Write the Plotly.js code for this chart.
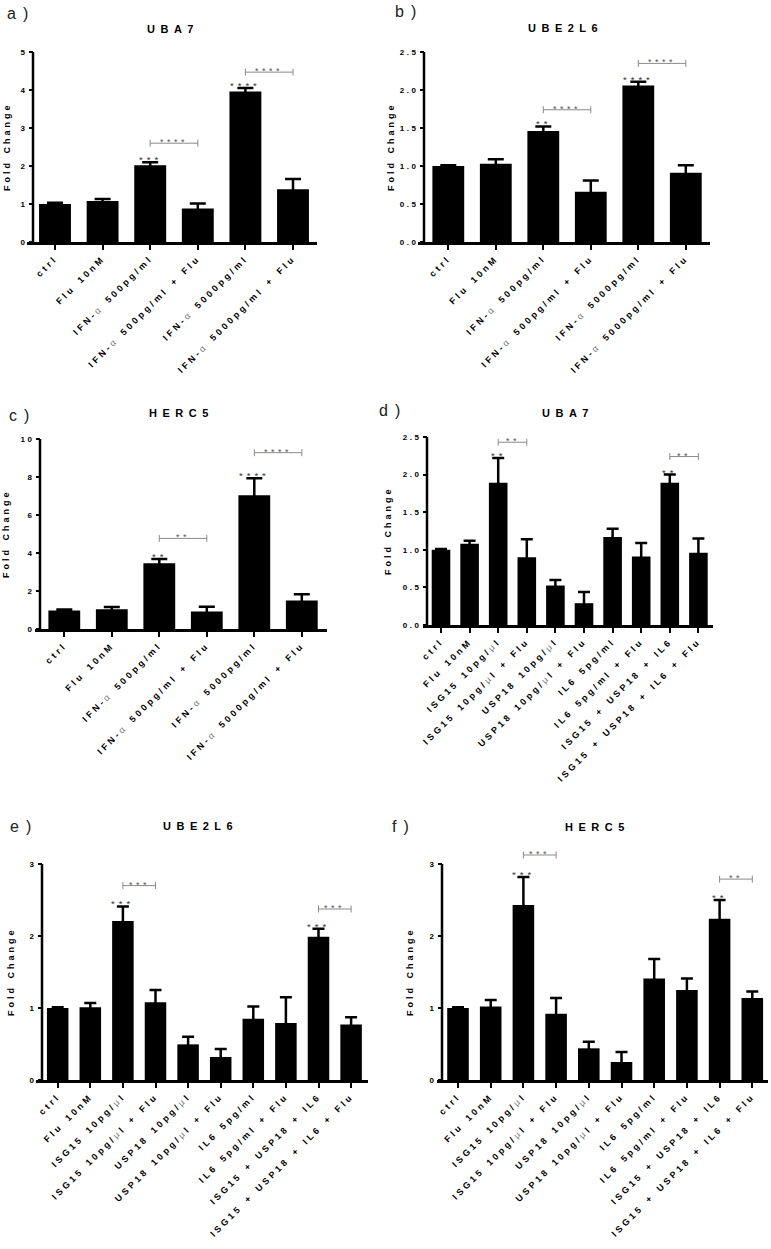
<!DOCTYPE html>
<html><head><meta charset="utf-8">
<script src="https://cdn.plot.ly/plotly-3.0.1.min.js"></script>
<style>body{margin:0;background:#fff}</style>
</head><body><div id="chart" style="width:771px;height:1249px"></div>
<script>
// ---------- DATA ----------
const catsIFN = ['ctrl','Flu 10nM','IFN-α 500pg/ml','IFN-α 500pg/ml + Flu','IFN-α 5000pg/ml','IFN-α 5000pg/ml + Flu'];
const catsISG = ['ctrl','Flu 10nM','ISG15 10pg/μl','ISG15 10pg/μl + Flu','USP18 10pg/μl','USP18 10pg/μl + Flu','IL6 5pg/ml','IL6 5pg/ml + Flu','ISG15 + USP18 + IL6','ISG15 + USP18 + IL6 + Flu'];

const titles = ['UBA7','UBE2L6','HERC5','UBA7','UBE2L6','HERC5'];
const panelLabels = ['a)','b)','c)','d)','e)','f)'];
const yTitle = 'Fold Change';

const valsA = [1.00, 1.08, 2.02, 0.88, 3.96, 1.39];
const errA  = [0.03, 0.05, 0.08, 0.13, 0.09, 0.27];
const starsA = ['', '', '***', '', '****', ''];
const sigA = [[2,3,2.60,'****'],[4,5,4.47,'****']];
const yTicksA = [0,1,2,3,4,5];

const valsB = [1.00, 1.03, 1.46, 0.66, 2.06, 0.91];
const errB  = [0.01, 0.06, 0.06, 0.15, 0.05, 0.10];
const starsB = ['', '', '**', '', '****', ''];
const sigB = [[2,3,1.74,'****'],[4,5,2.35,'****']];
const yTicksB = [0,0.5,1,1.5,2,2.5];

const valsC = [0.98, 1.04, 3.46, 0.92, 7.04, 1.50];
const errC  = [0.05, 0.12, 0.22, 0.25, 0.89, 0.33];
const starsC = ['', '', '**', '', '****', ''];
const sigC = [[2,3,4.77,'**'],[4,5,9.28,'****']];
const yTicksC = [0,2,4,6,8,10];

const valsD = [1.00, 1.08, 1.89, 0.90, 0.525, 0.29, 1.17, 0.91, 1.89, 0.96];
const errD  = [0.01, 0.04, 0.33, 0.24, 0.075, 0.15, 0.11, 0.18, 0.11, 0.19];
const starsD = ['', '', '**', '', '', '', '', '', '**', ''];
const sigD = [[2,3,2.43,'**'],[8,9,2.24,'**']];
const yTicksD = [0,0.5,1,1.5,2,2.5];

const valsE = [1.00, 1.01, 2.21, 1.08, 0.495, 0.32, 0.85, 0.79, 1.99, 0.77];
const errE  = [0.01, 0.06, 0.20, 0.17, 0.105, 0.11, 0.17, 0.36, 0.11, 0.10];
const starsE = ['', '', '***', '', '', '', '', '', '***', ''];
const sigE = [[2,3,2.70,'***'],[8,9,2.375,'***']];
const yTicksE = [0,1,2,3];

const valsF = [1.00, 1.02, 2.43, 0.92, 0.44, 0.25, 1.41, 1.25, 2.24, 1.14];
const errF  = [0.01, 0.09, 0.39, 0.22, 0.09, 0.14, 0.27, 0.16, 0.26, 0.09];
const starsF = ['', '', '***', '', '', '', '', '', '**', ''];
const sigF = [[2,3,3.125,'***'],[8,9,2.79,'**']];
const yTicksF = [0,1,2,3];

// ---------- LAYOUT GEOMETRY (pixels) ----------
const W = 771, H = 1249;
// yt = pixel row of the top tick, rTop = top of the plotted value range
const geo = [
  {xl:27,  xr:317, t0:55,    sp:47.6, yt:52,  yb:242,  rTop:5,   ypos:33,  dec:0, bw:0.67, cap:8, tx:173, ty:29,  lx:5,   ly:13,  ytx:7,   yty:147},
  {xl:418, xr:710, t0:448.3, sp:47.5, yt:52,  yb:242,  rTop:2.5, ypos:424, dec:1, bw:0.67, cap:8, tx:565, ty:28,  lx:393, ly:11,  ytx:391, yty:147},
  {xl:35,  xr:327, t0:64.3,  sp:47.5, yt:439, yb:629,  rTop:10,  ypos:40,  dec:0, bw:0.67, cap:8, tx:181, ty:413, lx:7,   ly:415, ytx:6,   yty:534},
  {xl:423, xr:713, t0:441,   sp:28.6, yt:437, yb:625,  rTop:2.5, ypos:427, dec:1, bw:0.65, cap:6, tx:568, ty:413, lx:377, ly:411, ytx:388, yty:531},
  {xl:36,  xr:368, t0:57.7,  sp:32.6, yt:864, yb:1080, rTop:3,   ypos:42,  dec:0, bw:0.66, cap:6, tx:200, ty:826, lx:8,   ly:826, ytx:11,  yty:972},
  {xl:437, xr:768, t0:458,   sp:32.7, yt:864, yb:1080, rTop:3.2, ypos:442, dec:0, bw:0.66, cap:6, tx:597, ty:827, lx:390, ly:826, ytx:410, yty:972}
];

const panels = [
  {cats:catsIFN, vals:valsA, err:errA, stars:starsA, sig:sigA, yt:yTicksA},
  {cats:catsIFN, vals:valsB, err:errB, stars:starsB, sig:sigB, yt:yTicksB},
  {cats:catsIFN, vals:valsC, err:errC, stars:starsC, sig:sigC, yt:yTicksC},
  {cats:catsISG, vals:valsD, err:errD, stars:starsD, sig:sigD, yt:yTicksD},
  {cats:catsISG, vals:valsE, err:errE, stars:starsE, sig:sigE, yt:yTicksE},
  {cats:catsISG, vals:valsF, err:errF, stars:starsF, sig:sigF, yt:yTicksF}
];

const FONT = 'Liberation Sans, Arial, Helvetica, sans-serif';
// letter-spaced text; spaces get extra room, Greek letters drawn light
function sp(s, ls, wordGap) {
  const wg = wordGap || 0;
  return s.split(/([αμ ])/).filter(p => p.length).map(p => {
    if (/[αμ]/.test(p)) return `<span style="letter-spacing:${ls}px;font-weight:normal;fill:#777">${p}</span>`;
    if (p === ' ') return `<span style="letter-spacing:${ls + wg}px"> </span>`;
    return `<span style="letter-spacing:${ls}px">${p}</span>`;
  }).join('');
}

const traces = [];
const layout = {
  width: W, height: H, margin: {l:0, r:0, t:0, b:0},
  paper_bgcolor: '#fff', plot_bgcolor: 'rgba(0,0,0,0)',
  showlegend: false, font: {family: FONT, color: '#000'},
  annotations: [], shapes: []
};

panels.forEach((p, i) => {
  const g = geo[i];
  const n = i + 1;
  const xid = n === 1 ? 'x' : 'x' + n;
  const yid = n === 1 ? 'y' : 'y' + n;
  const xkey = n === 1 ? 'xaxis' : 'xaxis' + n;
  const ykey = n === 1 ? 'yaxis' : 'yaxis' + n;
  const idx = p.cats.map((c, k) => k);
  const ymax = p.yt[p.yt.length - 1];
  const topPx = g.yb - (g.yb - g.yt) * g.rTop / ymax;

  traces.push({
    type: 'bar', x: idx, y: p.vals, xaxis: xid, yaxis: yid,
    width: g.bw, marker: {color: '#000', line: {width: 0}},
    error_y: {type: 'data', array: p.err, visible: true, color: '#000', thickness: 2.5, width: g.cap},
    hoverinfo: 'skip'
  });

  p.sig.forEach(s => {
    traces.push({
      type: 'scatter', mode: 'lines+markers', x: [s[0], s[1]], y: [s[2], s[2]],
      xaxis: xid, yaxis: yid, cliponaxis: false,
      line: {color: '#8a8a8a', width: 1},
      marker: {symbol: 'line-ns-open', size: 5, color: '#8a8a8a', line: {color: '#8a8a8a', width: 1}},
      hoverinfo: 'skip'
    });
    layout.annotations.push({
      xref: xid, yref: yid, x: (s[0] + s[1]) / 2, y: s[2], yanchor: 'bottom', yshift: -6,
      showarrow: false, text: sp(s[3], 3.5), font: {size: 9, color: '#555'}
    });
  });

  p.stars.forEach((s, k) => {
    if (!s) return;
    layout.annotations.push({
      xref: xid, yref: yid, x: k, y: p.vals[k] + p.err[k], yanchor: 'bottom', yshift: -5,
      showarrow: false, text: sp(s, 4), font: {size: 9.5, color: '#333'}
    });
  });

  layout[xkey] = {
    domain: [g.xl / W, g.xr / W], anchor: yid,
    range: [(g.xl - g.t0) / g.sp, (g.xr - g.t0) / g.sp],
    tickmode: 'array', tickvals: idx, ticktext: p.cats.map(c => sp(c, 3, 2)),
    tickangle: -45, tickfont: {size: 9, weight: 'bold', family: FONT, color: '#000'},
    ticks: 'outside', ticklen: 5, tickwidth: 2, tickcolor: '#000',
    showline: true, linewidth: 2.5, linecolor: '#000',
    showgrid: false, zeroline: false, fixedrange: true
  };
  layout[ykey] = {
    domain: [1 - g.yb / H, 1 - topPx / H], anchor: 'free', position: g.ypos / W, side: 'left',
    range: [0, g.rTop],
    tickmode: 'array', tickvals: p.yt, ticktext: p.yt.map(v => sp(v.toFixed(g.dec), 2.5)),
    tickfont: {size: 8, weight: 'bold', family: FONT, color: '#000'},
    ticks: 'outside', ticklen: 4, tickwidth: 2, tickcolor: '#000',
    showline: false,
    showgrid: false, zeroline: false, fixedrange: true
  };
  // y-axis line, ending at the top tick
  layout.shapes.push({
    type: 'line', xref: 'paper', yref: yid, x0: g.ypos / W, x1: g.ypos / W, y0: 0, y1: ymax,
    line: {color: '#000', width: 2.5}, layer: 'above'
  });

  layout.annotations.push({
    xref: 'paper', yref: 'paper', x: g.tx / W, y: 1 - g.ty / H, xanchor: 'center', yanchor: 'middle',
    showarrow: false, text: sp(titles[i], 5.5), font: {size: 11, weight: 'bold'}
  });
  layout.annotations.push({
    xref: 'paper', yref: 'paper', x: g.lx / W, y: 1 - g.ly / H, xanchor: 'left', yanchor: 'middle',
    showarrow: false, text: sp(panelLabels[i], 7), font: {size: 16, color: '#222'}
  });
  layout.annotations.push({
    xref: 'paper', yref: 'paper', x: g.ytx / W, y: 1 - g.yty / H, xanchor: 'center', yanchor: 'middle',
    textangle: -90, showarrow: false, text: sp(yTitle, 3, 1), font: {size: 9, weight: 'bold'}
  });
});

Plotly.newPlot('chart', traces, layout, {displayModeBar: false, staticPlot: true});
</script>
</body></html>
